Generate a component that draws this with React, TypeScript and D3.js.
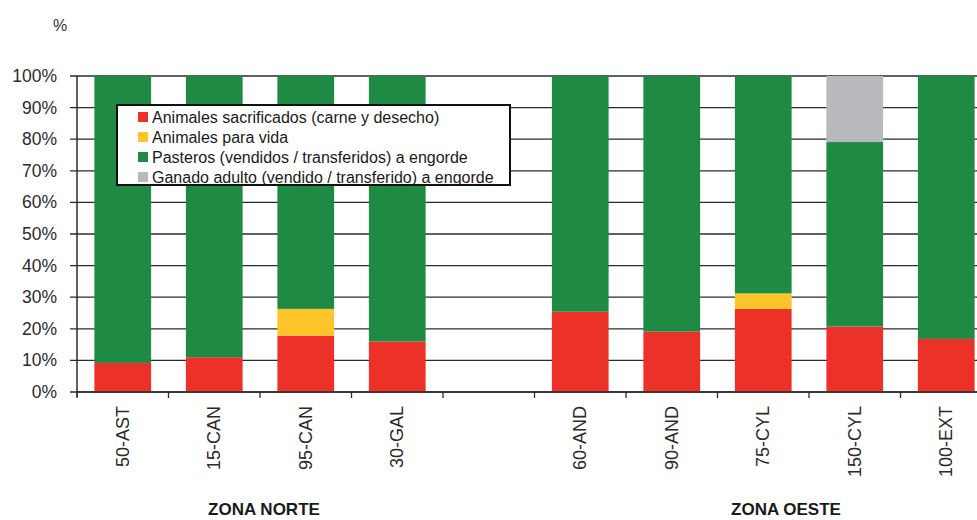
import React from "react";
import * as d3 from "d3";

const categories = ["50-AST", "15-CAN", "95-CAN", "30-GAL", "", "60-AND", "90-AND", "75-CYL", "150-CYL", "100-EXT"];
const sacrificados = [9.2, 11, 17.8, 16, 0, 25.4, 19.1, 26.3, 20.7, 16.8];
const vida = [0, 0, 8.5, 0, 0, 0, 0, 4.9, 0, 0];
const adulto = [0, 0, 0, 0, 0, 0, 0, 0, 20.9, 0];
const pasteros = categories.map((c, i) => (c === "" ? 0 : 100 - sacrificados[i] - vida[i] - adulto[i]));
const yTicks = [0, 10, 20, 30, 40, 50, 60, 70, 80, 90, 100];
const seriesNames = [
  "Animales sacrificados (carne y desecho)",
  "Animales para vida",
  "Pasteros (vendidos / transferidos) a engorde",
  "Ganado adulto (vendido / transferido) a engorde",
];
const seriesColors = ["#EC3129", "#FDC52A", "#1E8A44", "#B8B9BD"];
const zones = [
  { name: "ZONA NORTE", x: 264 },
  { name: "ZONA OESTE", x: 786 },
];

export default function App() {
  const W = 977, H = 520;
  const x0 = 77, x1 = 992, yBottom = 392, yTop = 76;
  const x = d3.scaleBand<string>().domain(categories).range([x0, x1]).paddingInner(0.38).paddingOuter(0.19);
  const y = d3.scaleLinear().domain([0, 100]).range([yBottom, yTop]);
  const rows = categories.map((c, i) => ({ cat: c, s0: sacrificados[i], s1: vida[i], s2: pasteros[i], s3: adulto[i] }));
  const stack = d3.stack<any>().keys(["s0", "s1", "s2", "s3"])(rows);
  const step = x.step();
  const boundaries = d3.range(categories.length + 1).map((i) => x0 + i * step);
  const font = "'Liberation Sans', Arial, sans-serif";

  return (
    <svg width={W} height={H} style={{ position: "absolute", left: 0, top: 0, background: "#fff" }} fontFamily={font}>
      <rect x={0} y={0} width={W} height={H} fill="#fff" />
      <text x={60} y={31} fontSize={16} textAnchor="middle" fill="#333">%</text>
      {yTicks.map((t) => (
        <line key={"g" + t} x1={70} x2={x1} y1={y(t)} y2={y(t)} stroke="#2b2b2b" strokeWidth={1.3} />
      ))}
      {stack.map((layer, li) =>
        layer.map((d, i) => {
          const c = categories[i];
          if (c === "" || d[1] - d[0] <= 0) return null;
          return (
            <rect key={li + "-" + i} x={x(c)!} width={x.bandwidth()} y={y(d[1])} height={y(d[0]) - y(d[1])} fill={seriesColors[li]} />
          );
        })
      )}
      <line x1={x0} x2={x0} y1={yTop} y2={yBottom + 5} stroke="#2b2b2b" strokeWidth={1.5} />
      <line x1={x0} x2={x1} y1={yBottom} y2={yBottom} stroke="#2b2b2b" strokeWidth={1.5} />
      {boundaries.map((b, i) => (
        <line key={"t" + i} x1={b} x2={b} y1={yBottom} y2={yBottom + 6} stroke="#2b2b2b" strokeWidth={1.3} />
      ))}
      {yTicks.map((t) => (
        <text key={"yl" + t} x={57} y={y(t) + 6} fontSize={17.5} textAnchor="end" fill="#2b2b2b">{t}%</text>
      ))}
      {categories.map((c) =>
        c === "" ? null : (
          <text key={"xl" + c} transform={`translate(${x(c)! + x.bandwidth() / 2 + 6},${406}) rotate(-90)`} fontSize={18} textAnchor="end" fill="#2b2b2b">{c}</text>
        )
      )}
      {zones.map((z) => (
        <text key={z.name} x={z.x} y={515} fontSize={17} fontWeight="bold" textAnchor="middle" fill="#1a1a1a">{z.name}</text>
      ))}
      <rect x={117} y={105} width={393} height={80} fill="#fff" stroke="#111" strokeWidth={2} />
      {seriesNames.map((n, i) => (
        <g key={n} transform={`translate(138,${117 + i * 20})`}>
          <rect x={0} y={-5} width={10} height={10} fill={seriesColors[i]} />
          <text x={14} y={5.5} fontSize={16} fill="#1a1a1a">{n}</text>
        </g>
      ))}
    </svg>
  );
}
